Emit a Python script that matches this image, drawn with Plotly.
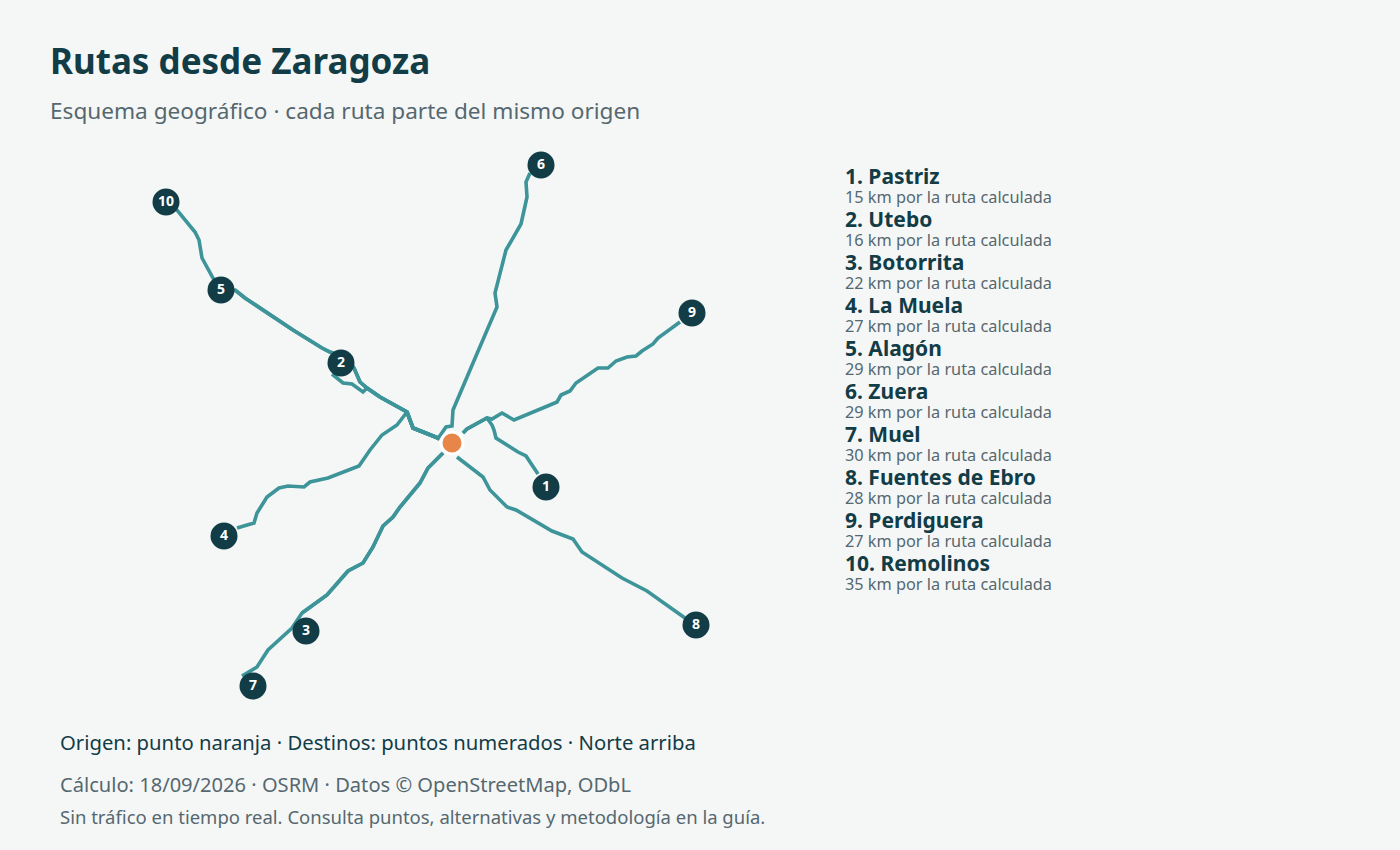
import plotly.graph_objects as go

FONT = "Noto Sans"
INK = "#123c46"
GREY = "#56686f"
TEAL = "#3d9499"
BG = "#f5f7f7"

title = "Rutas desde Zaragoza"
subtitle = "Esquema geográfico · cada ruta parte del mismo origen"
foot1 = "Origen: punto naranja · Destinos: puntos numerados · Norte arriba"
foot2 = "Cálculo: 18/09/2026 · OSRM · Datos © OpenStreetMap, ODbL"
foot3 = "Sin tráfico en tiempo real. Consulta puntos, alternativas y metodología en la guía."

names = ["Pastriz", "Utebo", "Botorrita", "La Muela", "Alagón", "Zuera", "Muel",
         "Fuentes de Ebro", "Perdiguera", "Remolinos"]
kms = [15, 16, 22, 27, 29, 29, 30, 28, 27, 35]

origin_x = [452]
origin_y = [443]
dest_x = [546, 341, 306, 224, 221, 541, 253, 696, 692, 166]
dest_y = [487, 363, 631, 536, 290, 165, 686, 625, 313, 202]

west_x = [438, 413, 407, 380, 367]
west_y = [438, 428, 412, 397, 388]
sw_x = [443, 428, 420, 400, 393, 383, 373, 363, 348, 327, 302]
sw_y = [453, 468, 483, 507, 517, 526, 547, 563, 571, 595, 613]
ne_x = [463, 467, 487]
ne_y = [433, 429, 418]

r1_x = ne_x + [492, 494, 496, 518, 526, 538]
r1_y = ne_y + [425, 430, 438, 452, 456, 474]
r2_x = west_x + [363, 352, 343, 332]
r2_y = west_y + [392, 384, 383, 374]
r3_x = sw_x
r3_y = sw_y
r4_x = [438, 413, 407, 397, 382, 370, 359, 328, 310, 304, 288, 279, 267, 257, 254, 237]
r4_y = [438, 428, 412, 425, 435, 450, 466, 478, 482, 487, 486, 488, 497, 513, 523, 528]
r5_x = west_x + [360, 354, 345, 330, 322, 293, 270, 245, 235]
r5_y = west_y + [382, 368, 358, 352, 348, 330, 315, 298, 290]
r6_x = [437, 446, 452, 453, 473, 497, 495, 506, 521, 527, 526, 530]
r6_y = [440, 427, 426, 410, 363, 307, 293, 250, 224, 197, 182, 173]
r7_x = sw_x + [292, 268, 257, 242]
r7_y = sw_y + [628, 650, 667, 676]
r8_x = [457, 483, 490, 507, 516, 552, 573, 582, 622, 647, 685]
r8_y = [457, 477, 490, 507, 510, 531, 539, 552, 578, 591, 618]
r9_x = ne_x + [492, 502, 514, 550, 557, 561, 570, 576, 585, 598, 608, 616, 627, 636, 642, 653, 658, 680]
r9_y = ne_y + [419, 413, 420, 405, 402, 395, 391, 383, 377, 368, 368, 361, 357, 356, 351, 344, 338, 322]
r10_x = r5_x + [221, 213, 202, 199, 195, 177, 166]
r10_y = r5_y + [290, 278, 258, 240, 232, 210, 202]

routes = [(r1_x, r1_y), (r2_x, r2_y), (r3_x, r3_y), (r4_x, r4_y), (r5_x, r5_y),
          (r6_x, r6_y), (r7_x, r7_y), (r8_x, r8_y), (r9_x, r9_y), (r10_x, r10_y)]

fig = go.Figure()
for xs, ys in routes:
    fig.add_trace(go.Scatter(x=xs, y=ys, mode="lines", hoverinfo="skip", showlegend=False,
                             line=dict(color=TEAL, width=3.6, shape="linear")))

fig.add_trace(go.Scatter(x=origin_x, y=origin_y, mode="markers", hoverinfo="skip", showlegend=False,
                         marker=dict(size=22, color="#e8864a", line=dict(color="#ffffff", width=3))))
fig.add_trace(go.Scatter(x=dest_x, y=dest_y, mode="markers+text", hoverinfo="skip", showlegend=False,
                         text=[str(i + 1) for i in range(len(dest_x))], textposition="middle center",
                         textfont=dict(family=FONT, size=14, color="#ffffff", weight="bold"),
                         marker=dict(size=27, color=INK)))


def label(x, y, text, size, color, bold=False):
    fig.add_annotation(x=x, y=y, xref="x", yref="y", text=text, showarrow=False,
                       xanchor="left", yanchor="middle", align="left",
                       font=dict(family=FONT, size=size, color=color,
                                 weight="bold" if bold else "normal"))


label(48, 60.5, title, 35, INK, True)
label(48, 110, subtitle, 22.6, GREY)
label(58, 742, foot1, 20.3, INK)
label(58, 784, foot2, 20.1, GREY)
label(58, 816, foot3, 18.5, GREY)
for i, (n, k) in enumerate(zip(names, kms)):
    label(843, 176 + 43 * i, f"{i + 1}. {n}", 21, INK, True)
    label(843, 197 + 43 * i, f"{k} km por la ruta calculada", 16.3, GREY)

fig.update_layout(width=1400, height=850, margin=dict(l=0, r=0, t=0, b=0),
                  paper_bgcolor=BG, plot_bgcolor=BG, showlegend=False,
                  xaxis=dict(range=[0, 1400], visible=False, fixedrange=True),
                  yaxis=dict(range=[850, 0], visible=False, fixedrange=True))
fig.write_html("out.html", config={"displayModeBar": False},
               post_script=f"document.body.style.margin='0';document.body.style.background='{BG}';")
